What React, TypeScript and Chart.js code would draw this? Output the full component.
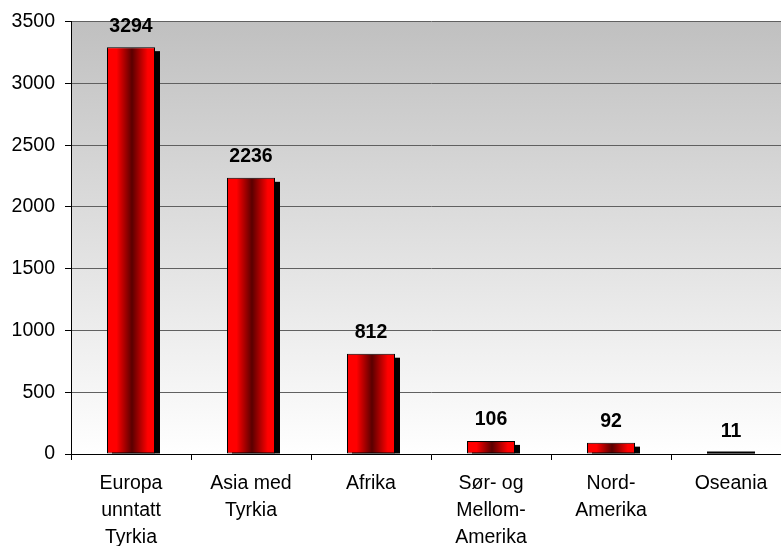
import React, { useEffect, useRef } from "react";
import { Chart, registerables } from "chart.js";

Chart.register(...registerables);

const categories: (string | string[])[] = [
  ["Europa", "unntatt", "Tyrkia"],
  ["Asia med", "Tyrkia"],
  "Afrika",
  ["Sør- og", "Mellom-", "Amerika"],
  ["Nord-", "Amerika"],
  "Oseania",
];
const values: number[] = [3294, 2236, 812, 106, 92, 11];
const yMin = 0;
const yMax = 3500;
const yStep = 500;

const FONT = "Arial, 'Liberation Sans', sans-serif";
const FS = 19.5;

const bgPlugin = {
  id: "bgGradient",
  beforeDraw(chart: any) {
    const { ctx, chartArea } = chart;
    if (!chartArea) return;
    const g = ctx.createLinearGradient(0, chartArea.top, 0, chartArea.bottom);
    g.addColorStop(0, "#C0C0C0");
    g.addColorStop(1, "#FFFFFF");
    ctx.save();
    ctx.fillStyle = g;
    ctx.fillRect(chartArea.left, chartArea.top, chartArea.right - chartArea.left, chartArea.bottom - chartArea.top);
    ctx.restore();
  },
};

const shadowPlugin = {
  id: "barShadow",
  beforeDatasetsDraw(chart: any) {
    const { ctx } = chart;
    const meta = chart.getDatasetMeta(0);
    ctx.save();
    ctx.fillStyle = "#000000";
    meta.data.forEach((el: any) => {
      const h = el.base - el.y - 4;
      if (h <= 0) return;
      ctx.fillRect(el.x - el.width / 2 + 5, el.y + 4, el.width, h);
    });
    ctx.restore();
  },
  afterDatasetsDraw(chart: any) {
    const { ctx } = chart;
    const meta = chart.getDatasetMeta(0);
    const data = chart.data.datasets[0].data;
    ctx.save();
    // very short bars: the library clamps their border, so draw them as a dark line
    ctx.fillStyle = "#000000";
    meta.data.forEach((el: any) => {
      const h = el.base - el.y;
      if (h < 4) {
        ctx.fillRect(Math.round(el.x - el.width / 2), Math.floor(el.y) - 0.5, Math.round(el.width), el.base - Math.floor(el.y) + 0.5);
      }
    });
    ctx.font = `bold ${FS}px ${FONT}`;
    ctx.textAlign = "center";
    ctx.textBaseline = "middle";
    meta.data.forEach((el: any, i: number) => {
      ctx.fillText(String(data[i]), el.x, el.y - 21);
    });
    ctx.restore();
  },
};

export default function App() {
  const ref = useRef<HTMLCanvasElement | null>(null);
  useEffect(() => {
    if (!ref.current) return;
    const chart = new Chart(ref.current, {
      type: "bar",
      data: {
        labels: categories as any,
        datasets: [
          {
            data: values,
            categoryPercentage: 1,
            barPercentage: 0.4,
            borderColor: "#000000",
            borderWidth: 1,
            borderSkipped: false,
            backgroundColor: (c: any) => {
              const chart = c.chart;
              const xs = chart.scales?.x;
              if (!xs || !chart.chartArea) return "#FF0000";
              const cx = xs.getPixelForValue(c.dataIndex);
              const w = (xs.width / categories.length) * 0.4;
              const g = chart.ctx.createLinearGradient(cx - w / 2, 0, cx + w / 2, 0);
              g.addColorStop(0, "#FF0000");
              g.addColorStop(0.2, "#FF0000");
              g.addColorStop(0.52, "#5A0000");
              g.addColorStop(0.85, "#FF0000");
              g.addColorStop(1, "#FF0000");
              return g;
            },
          },
        ],
      },
      options: {
        animation: false,
        responsive: false,
        maintainAspectRatio: false,
        layout: { padding: { top: 21, right: 9, bottom: 0, left: 0 } },
        plugins: { legend: { display: false }, tooltip: { enabled: false } },
        scales: {
          x: {
            offset: true,
            grid: { offset: true, drawOnChartArea: false, tickLength: 6, tickColor: "#000000" },
            border: { color: "#000000", width: 1 },
            ticks: {
              color: "#000000",
              font: { family: FONT, size: FS, lineHeight: 1.38 },
              padding: 10,
              maxRotation: 0,
              autoSkip: false,
            },
            afterFit: (s: any) => {
              s.height = 92;
            },
          },
          y: {
            min: yMin,
            max: yMax,
            ticks: {
              stepSize: yStep,
              color: "#000000",
              font: { family: FONT, size: FS },
              padding: 10,
              callback: (v: any) => String(v),
            },
            grid: { color: "#606060", tickLength: 6, tickColor: "#000000" },
            border: { color: "#000000", width: 1 },
            afterFit: (s: any) => {
              s.width = 71;
            },
          },
        },
      },
      plugins: [bgPlugin, shadowPlugin],
    });
    return () => chart.destroy();
  }, []);
  return (
    <div style={{ position: "fixed", left: 0, top: 0, width: 781, height: 546, overflow: "hidden", background: "#fff" }}>
      <canvas ref={ref} width={800} height={546} style={{ display: "block", width: 800, height: 546 }} />
    </div>
  );
}
